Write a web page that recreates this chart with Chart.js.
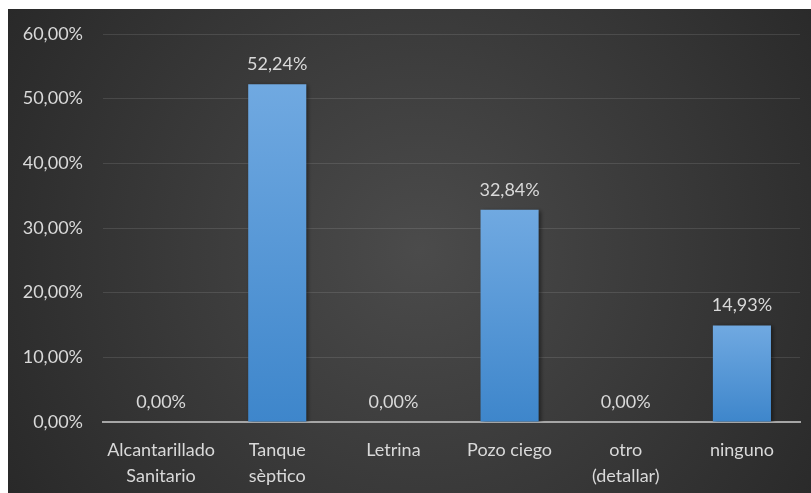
<!DOCTYPE html>
<html>
<head>
<meta charset="utf-8">
<script src="https://cdn.jsdelivr.net/npm/chart.js@4/dist/chart.umd.min.js"></script>
<style>
  html, body { margin: 0; padding: 0; background: #ffffff; }
  #wrap { width: 811px; height: 493px; }
</style>
</head>
<body>
<div id="wrap"><canvas id="c" width="811" height="493"></canvas></div>
<script>
// Tipo de eliminación de excretas (porcentaje de viviendas)
const categories = [
  ['Alcantarillado', 'Sanitario'],
  ['Tanque', 'sèptico'],
  'Letrina',
  'Pozo ciego',
  ['otro', '(detallar)'],
  'ninguno'
];
const percentages = [0.00, 52.24, 0.00, 32.84, 0.00, 14.93];
const yTicks = [0, 10, 20, 30, 40, 50, 60];

const FONT = 'Lato, "Open Sans", sans-serif';
const TEXT = '#d9d9d9';

const fmt = v => v.toFixed(2).replace('.', ',') + '%';

// Dark radial backdrop behind the plot
const backdrop = {
  id: 'backdrop',
  beforeDraw(chart) {
    const { ctx, width, height } = chart;
    ctx.save();
    ctx.fillStyle = '#ffffff';
    ctx.fillRect(0, 0, width, height);
    const g = ctx.createRadialGradient(420, 250, 0, 420, 250, 520);
    g.addColorStop(0, '#4b4b4b');
    g.addColorStop(1, '#262626');
    ctx.fillStyle = g;
    ctx.fillRect(8, 9, width - 8, height - 9);
    ctx.restore();
  }
};

// Soft shadow under bars
const barShadow = {
  id: 'barShadow',
  beforeDatasetDraw(chart) {
    const ctx = chart.ctx;
    ctx.save();
    ctx.shadowColor = 'rgba(0,0,0,0.45)';
    ctx.shadowBlur = 4;
    ctx.shadowOffsetX = 2;
    ctx.shadowOffsetY = 1;
  },
  afterDatasetDraw(chart) {
    chart.ctx.restore();
  }
};

// Value labels above each bar
const valueLabels = {
  id: 'valueLabels',
  afterDatasetsDraw(chart) {
    const { ctx } = chart;
    const meta = chart.getDatasetMeta(0);
    ctx.save();
    ctx.font = '18px ' + FONT;
    ctx.fillStyle = TEXT;
    ctx.textAlign = 'center';
    ctx.textBaseline = 'alphabetic';
    meta.data.forEach((bar, i) => {
      ctx.fillText(fmt(percentages[i]), bar.x, bar.y - 14);
    });
    ctx.restore();
  }
};

function barFill(context) {
  const chart = context.chart;
  const { chartArea } = chart;
  if (!chartArea) return '#5b9bd5';
  const y = chart.scales.y;
  const v = context.raw || 0;
  const top = y.getPixelForValue(v);
  const bottom = y.getPixelForValue(0);
  if (!(bottom > top)) return '#5b9bd5';
  const g = chart.ctx.createLinearGradient(0, top, 0, bottom);
  g.addColorStop(0, '#70a9e1');
  g.addColorStop(1, '#3e86cb');
  return g;
}

new Chart(document.getElementById('c'), {
  type: 'bar',
  data: {
    labels: categories,
    datasets: [{
      data: percentages,
      backgroundColor: barFill,
      borderWidth: 0,
      categoryPercentage: 1.0,
      barPercentage: 0.5
    }]
  },
  options: {
    responsive: false,
    animation: false,
    devicePixelRatio: 1,
    layout: { padding: { top: 34, right: 11, left: 0, bottom: 0 } },
    plugins: {
      legend: { display: false },
      tooltip: { enabled: false }
    },
    scales: {
      x: {
        grid: { display: false, drawTicks: false },
        border: { display: true, color: '#a6a6a6', width: 2 },
        ticks: {
          color: TEXT,
          font: { family: FONT, size: 18, lineHeight: 1.4 },
          padding: 16,
          maxRotation: 0,
          autoSkip: false
        },
        afterFit(scale) { scale.height = 71; }
      },
      y: {
        min: 0,
        max: 60,
        afterBuildTicks(scale) { scale.ticks = yTicks.map(v => ({ value: v })); },
        grid: { color: 'rgba(255,255,255,0.11)', lineWidth: 1, drawTicks: false },
        border: { display: false },
        ticks: {
          color: TEXT,
          font: { family: FONT, size: 18 },
          padding: 20,
          callback: v => fmt(v)
        },
        afterFit(scale) { scale.width = 103; }
      }
    }
  },
  plugins: [backdrop, barShadow, valueLabels]
});
</script>
</body>
</html>
